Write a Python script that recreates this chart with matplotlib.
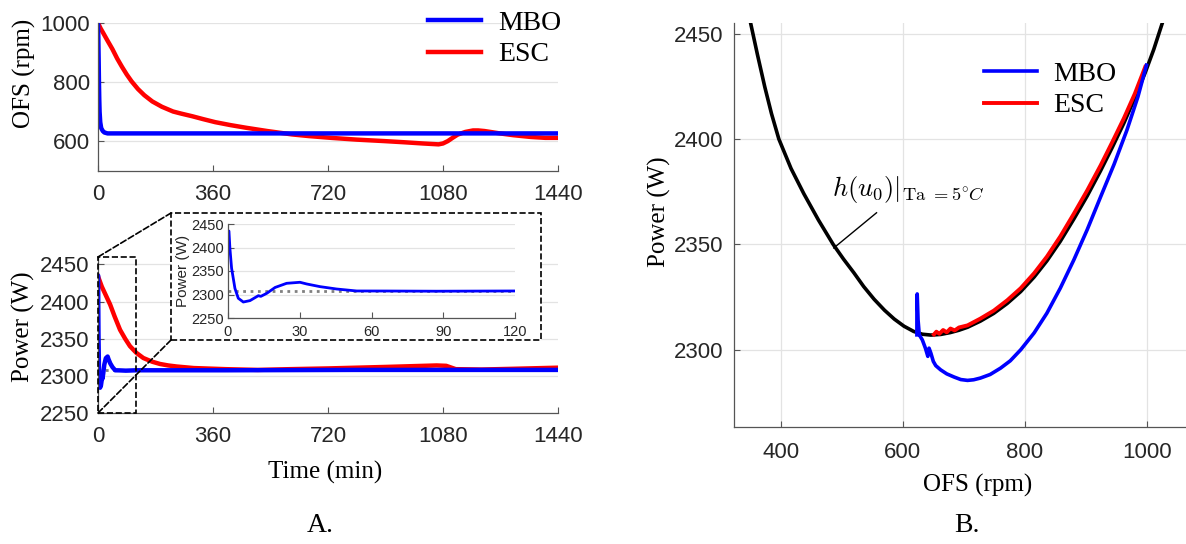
import matplotlib
matplotlib.use("Agg")
import matplotlib.pyplot as plt
from matplotlib.patches import Rectangle, ConnectionPatch

plt.rcParams['font.family'] = ['Liberation Sans', 'DejaVu Sans']
plt.rcParams['mathtext.fontset'] = 'cm'

SERIF = ['Liberation Serif', 'DejaVu Serif']
BLUE = '#0000ff'
RED = '#ff0000'
GRID = '#e3e3e3'
AX = '#555555'
TXT = '#262626'

# --- A. top: OFS vs time ---
t_mbo = [0, 1, 2, 3, 4, 5, 7, 10, 15, 20, 30, 1440]
ofs_mbo = [1000, 950, 880, 800, 740, 700, 665, 645, 635, 630, 627, 627]

t_esc = [0, 8, 17, 30, 45, 60, 75, 90, 105, 125, 145, 170, 200, 235, 260, 295, 330,
         367, 415, 464, 530, 608, 660, 729, 810, 897, 960, 1017, 1050, 1066, 1080,
         1095, 1110, 1126, 1150, 1174, 1190, 1210, 1258, 1300, 1355, 1400, 1440]
ofs_esc = [1000, 982, 965, 940, 912, 880, 852, 826, 803, 777, 756, 735, 717, 701, 694,
           685, 675, 665, 655, 646, 635, 623.5, 618, 612, 606, 601, 597, 593, 591, 590,
           593, 601, 612, 623, 632, 637, 637, 635, 627, 621, 615, 612, 612]

# --- A. bottom: power vs time ---
t_pmbo = [0, 0.4, 0.8, 1.5, 2.9, 4.3, 6.4, 9.2, 12.7, 13.7, 16.2, 19.7, 24.5, 30.1,
          32.9, 38.5, 45.4, 53.8, 66.2, 87.2, 120, 400, 800, 1100, 1440]
p_mbo = [2435, 2435, 2398, 2356, 2313, 2292, 2284, 2287, 2297.5, 2296, 2302.5, 2315,
         2323.8, 2326, 2322.4, 2316.7, 2311.7, 2307.5, 2307.4, 2307, 2307.5, 2307.5,
         2308, 2308, 2308]

t_pesc = [0, 12, 25, 38, 52, 69, 85, 100, 120, 142, 170, 194, 220, 246, 300, 400, 500,
          600, 720, 900, 1060, 1090, 1120, 1200, 1300, 1440]
p_esc = [2434, 2420, 2408, 2396, 2380, 2362, 2350, 2340, 2331, 2324, 2319, 2316, 2314,
         2312.6, 2310.5, 2309, 2308, 2309, 2310, 2312, 2314, 2313.5, 2309, 2308.5,
         2309.5, 2311]

p_opt = 2307.5

# --- B. power vs OFS ---
u_h = [351, 362, 374, 385, 397, 417, 438, 462, 486, 503, 520, 536, 553, 570, 586, 602,
       618, 632, 646, 662, 678, 692, 706, 727, 749, 771, 793, 815, 836, 858, 880, 902,
       924, 943, 962, 980, 997, 1011, 1025]
p_h = [2454.7, 2440, 2424.7, 2412, 2400, 2386, 2374, 2361.5, 2350, 2343, 2336.5, 2330,
       2324, 2318.8, 2314.6, 2311.2, 2308.7, 2307.4, 2307, 2307.3, 2308.2, 2309.3,
       2310.7, 2313.6, 2317.3, 2322, 2327.6, 2334.5, 2342.2, 2351.5, 2362, 2373,
       2385, 2396, 2407.5, 2419.5, 2431.5, 2442.5, 2455]

u_besc = [997, 980, 962, 943, 924, 902, 880, 858, 836, 815, 793, 771, 749, 727, 706, 692,
          685, 678, 672, 666, 660, 655, 651]
p_besc = [2434.2, 2421.5, 2409.8, 2398.5, 2387.5, 2375.6, 2364.5, 2353.8, 2344.2,
          2336.3, 2329.2, 2323.5, 2318.6, 2314.8, 2311.6, 2310.6, 2309.2, 2310.1,
          2308.3, 2309.4, 2307.6, 2308.6, 2307.3]

u_bmbo = [999, 985, 967, 946, 924, 902, 880, 858, 836, 815, 793, 776, 760, 743, 727,
          716, 706, 695, 684, 672, 662, 654, 650, 646, 643, 641, 637, 632, 627, 625,
          623.6, 623.1, 623.1]
p_bmbo = [2435, 2420, 2404.2, 2388, 2372.6, 2357, 2342.6, 2329.3, 2317.4, 2308, 2300,
          2294.8, 2291.3, 2288.3, 2286.6, 2285.8, 2285.5, 2285.9, 2287.1, 2288.6,
          2290.5, 2292.5, 2294.5, 2298.4, 2300.8, 2296.9, 2300.8, 2304.7, 2307.1,
          2314.2, 2326.5, 2318.9, 2307.1]

W, H = 1186, 544
fig = plt.figure(figsize=(W / 100, H / 100), dpi=100)


def box(l, t, r, b):
    return [l / W, 1 - b / H, (r - l) / W, (b - t) / H]


def style(ax, xgrid=False, fs=16, pad=(10, 6)):
    for s in ['top', 'right']:
        ax.spines[s].set_visible(False)
    for s in ['left', 'bottom']:
        ax.spines[s].set_color(AX)
        ax.spines[s].set_linewidth(0.9)
    ax.tick_params(direction='in', length=4, width=0.8, color=AX,
                   labelsize=fs, labelcolor=TXT)
    ax.tick_params(axis='x', pad=pad[0])
    ax.tick_params(axis='y', pad=pad[1])
    ax.grid(axis='y', color=GRID, lw=0.9)
    if xgrid:
        ax.grid(axis='x', color=GRID, lw=0.9)
    ax.set_axisbelow(True)


# top-left
ax1 = fig.add_axes(box(98, 23, 558, 171))
ax1.plot(t_esc, ofs_esc, color=RED, lw=3.2, label='ESC')
ax1.plot(t_mbo, ofs_mbo, color=BLUE, lw=3.2, label='MBO')
ax1.set_xlim(0, 1440)
ax1.set_ylim(500, 1000)
ax1.set_xticks([0, 360, 720, 1080, 1440])
ax1.set_yticks([600, 800, 1000])
style(ax1, pad=(9, 6))
h, l = ax1.get_legend_handles_labels()
ax1.legend(h[::-1], l[::-1], loc='upper left', bbox_to_anchor=(0.718, 1.085),
           frameon=False, borderpad=0, borderaxespad=0, handlelength=1.9,
           handletextpad=0.6, labelspacing=0.22, prop={'family': SERIF, 'size': 20})

# bottom-left
ax2 = fig.add_axes(box(98, 257, 558, 413))
ax2.plot(t_pesc, p_esc, color=RED, lw=3.2)
ax2.axhline(p_opt, color='#808080', lw=2, ls=':')
ax2.plot(t_pmbo, p_mbo, color=BLUE, lw=3.2)
ax2.set_xlim(0, 1440)
ax2.set_ylim(2250, 2460)
ax2.set_xticks([0, 360, 720, 1080, 1440])
ax2.set_yticks([2250, 2300, 2350, 2400, 2450])
style(ax2, pad=(9, 6))
ax2.add_patch(Rectangle((0, 2250), 120, 210, fill=False, ls='--', lw=1.2,
                        ec='black', clip_on=False, zorder=5))

# inset frame
bx = box(171, 213, 541, 340)
frame = Rectangle((bx[0], bx[1]), bx[2], bx[3], transform=fig.transFigure,
                  fc='white', ec='black', ls='--', lw=1.2, zorder=2)
fig.add_artist(frame)
for ya, yb in [(2460, bx[1] + bx[3]), (2250, bx[1])]:
    con = ConnectionPatch(xyA=(0, ya), coordsA=ax2.transData,
                          xyB=(bx[0], yb), coordsB=fig.transFigure,
                          ls='--', lw=1.2, color='black', zorder=2)
    fig.add_artist(con)

axi = fig.add_axes(box(228, 224, 515, 318))
axi.set_zorder(3)
axi.axhline(p_opt, color='#808080', lw=2, ls=':')
axi.plot(t_pmbo, p_mbo, color=BLUE, lw=2)
axi.set_xlim(0, 120)
axi.set_ylim(2250, 2450)
axi.set_xticks([0, 30, 60, 90, 120])
axi.set_yticks([2250, 2300, 2350, 2400, 2450])
style(axi, fs=10.5, pad=(5, 3))
axi.set_ylabel('Power (W)', fontsize=11, color=TXT, labelpad=1)

# right
ax3 = fig.add_axes(box(734, 23, 1222, 427))
ax3.plot(u_h, p_h, color='black', lw=2.6)
ax3.plot(u_besc, p_besc, color=RED, lw=2.8, label='ESC')
ax3.plot(u_bmbo, p_bmbo, color=BLUE, lw=2.6, label='MBO')
ax3.set_xlim(323.6, 1122.7)
ax3.set_ylim(2263.4, 2455)
ax3.set_xticks([400, 600, 800, 1000])
ax3.set_yticks([2300, 2350, 2400, 2450])
style(ax3, xgrid=True, pad=(11, 8))
h, l = ax3.get_legend_handles_labels()
ax3.legend(h[::-1], l[::-1], loc='upper left', bbox_to_anchor=(0.512, 0.905),
           frameon=False, borderpad=0, borderaxespad=0, handlelength=1.9,
           handletextpad=0.6, labelspacing=0.22, prop={'family': SERIF, 'size': 20})
ax3.plot([487, 557], [2348.3, 2365], color='black', lw=1)
ax3.text(483.6, 2376, r'$h(u_0)|_{\mathrm{Ta}\ =5^{\circ}C}$', fontsize=19,
         va='center', ha='left')

# labels
fig.text(24 / W, 1 - 73 / H, 'OFS (rpm)', rotation=90, ha='center', va='center',
         family=SERIF, fontsize=18)
fig.text(23 / W, 1 - 327 / H, 'Power (W)', rotation=90, ha='center', va='center',
         family=SERIF, fontsize=18)
fig.text(325 / W, 1 - 472 / H, 'Time (min)', ha='center', va='center',
         family=SERIF, fontsize=18)
fig.text(659 / W, 1 - 212 / H, 'Power (W)', rotation=90, ha='center', va='center',
         family=SERIF, fontsize=18)
fig.text(978 / W, 1 - 485 / H, 'OFS (rpm)', ha='center', va='center',
         family=SERIF, fontsize=18)
fig.text(320 / W, 1 - 526 / H, 'A.', ha='center', va='center', family=SERIF, fontsize=20)
fig.text(967 / W, 1 - 526 / H, 'B.', ha='center', va='center', family=SERIF, fontsize=20)

fig.savefig('out.png', dpi=100)
